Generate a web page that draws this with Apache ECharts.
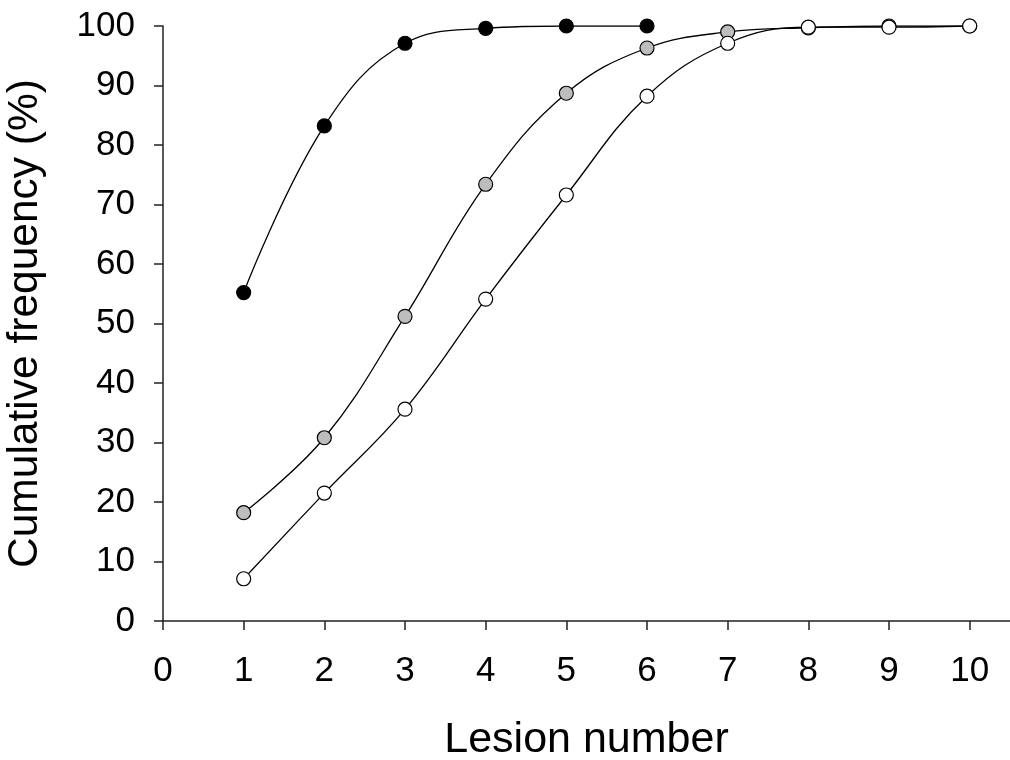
<!DOCTYPE html>
<html>
<head>
<meta charset="utf-8">
<script src="https://cdn.jsdelivr.net/npm/echarts@6/dist/echarts.min.js"></script>
<style>
  html, body { margin: 0; padding: 0; background: #fff; }
  #chart { width: 1010px; height: 760px; }
</style>
</head>
<body>
<div id="chart"></div>
<script>
// lesion number on x, cumulative % on y
const blackX = [1, 2, 3, 4, 5, 6];
const blackY = [55.2, 83.2, 97.1, 99.6, 100, 100];

const grayX = [1, 2, 3, 4, 5, 6, 7, 8, 9, 10];
const grayY = [18.2, 30.8, 51.2, 73.4, 88.7, 96.3, 99.0, 99.7, 100, 100];

const whiteX = [1, 2, 3, 4, 5, 6, 7, 8, 9, 10];
const whiteY = [7.1, 21.5, 35.6, 54.1, 71.6, 88.2, 97.1, 99.8, 99.8, 100];

const xTicks = [0, 1, 2, 3, 4, 5, 6, 7, 8, 9, 10];

const font = "Liberation Sans, Arial, sans-serif";

function pairs(xs, ys) {
  return xs.map((x, i) => [x, ys[i]]);
}

function lineSeries(name, xs, ys, fill) {
  return {
    name: name,
    type: "line",
    data: pairs(xs, ys),
    smooth: 0.4,
    symbol: "circle",
    symbolSize: 14,
    lineStyle: { color: "#000", width: 1.3 },
    itemStyle: { color: fill, borderColor: "#000", borderWidth: 1.2 },
    emphasis: { disabled: true },
  };
}

const chart = echarts.init(document.getElementById("chart"));

const options = {
  animation: false,
  grid: { left: 163, right: 0, top: 26, bottom: 139, outerBoundsMode: "none" },
  xAxis: {
    type: "value",
    min: 0,
    max: 10.5,
    interval: 1,
    name: "Lesion number",
    nameLocation: "middle",
    nameGap: 98,
    nameTextStyle: { fontFamily: font, fontSize: 43, color: "#000" },
    splitLine: { show: false },
    axisLine: { lineStyle: { color: "#222", width: 1.5 } },
    axisTick: {
      inside: false,
      length: 9,
      lineStyle: { color: "#222", width: 1.5 },
      customValues: xTicks,
    },
    axisLabel: {
      fontFamily: font,
      fontSize: 35,
      color: "#000",
      margin: 33,
      customValues: xTicks,
    },
  },
  yAxis: {
    type: "value",
    min: 0,
    max: 100,
    interval: 10,
    name: "Cumulative frequency (%)",
    nameLocation: "middle",
    nameGap: 116,
    nameRotate: 90,
    nameTextStyle: { fontFamily: font, fontSize: 42.5, color: "#000" },
    splitLine: { show: false },
    axisLine: { show: true, lineStyle: { color: "#222", width: 1.5 } },
    axisTick: { show: true, length: 9, lineStyle: { color: "#222", width: 1.5 } },
    axisLabel: { fontFamily: font, fontSize: 35, color: "#000", margin: 28 },
  },
  series: [
    lineSeries("black", blackX, blackY, "#000"),
    lineSeries("gray", grayX, grayY, "#bdbdbd"),
    lineSeries("white", whiteX, whiteY, "#fff"),
  ],
};

chart.setOption(options);
</script>
</body>
</html>
